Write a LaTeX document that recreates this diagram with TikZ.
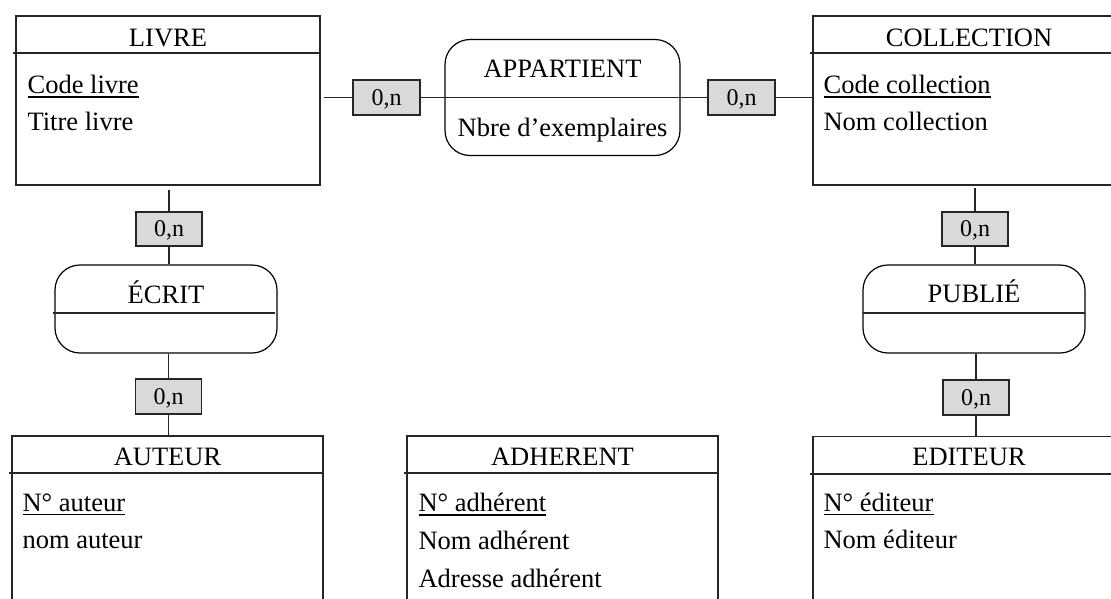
\documentclass[tikz,border=0pt]{standalone}
\usepackage{fontspec}
\setmainfont{Liberation Serif}
\newcommand{\keyul}[1]{\setbox0\hbox{#1}\rlap{\rule[-4pt]{\wd0}{1.3pt}}\box0}
\begin{document}
\begin{tikzpicture}[x=1pt,y=-1pt,
  line width=1.2pt,
  ln/.style={draw=black!85},
  entity/.style={draw=black!85, line width=1.2pt, inner sep=0pt, minimum height=169pt},
  lowentity/.style={draw=black!85, line width=1.2pt, inner sep=0pt, minimum height=204pt},
  relation/.style={draw=black, line width=1.2pt, rounded corners=25pt, inner sep=0pt},
  card/.style={draw=black!85, line width=1.2pt, fill=black!15, inner sep=0pt,
    minimum width=67pt, minimum height=35pt, text height=16pt, text depth=1pt,
    font=\fontsize{24}{28}\selectfont},
  ttl/.style={anchor=base, inner sep=0pt, font=\fontsize{26.5}{32}\selectfont},
  attr/.style={anchor=base west, inner sep=0pt, font=\fontsize{26.5}{32}\selectfont}
]
\useasboundingbox (0,0) rectangle (1111,598);
\clip (0,0) rectangle (1111,598);
\fill[white] (0,0) rectangle (1111,598);

% ---- entities ----
\node[entity, minimum width=304pt] (livre) at (168,100.5) {};
\draw[ln] (13,53) -- (livre.east |- 0,53);
\node[ttl] (tlivre) at (168,46.5) {LIVRE};
\node[attr] (a1) at (27,93.5) {\keyul{Code livre}};
\node[attr] (a2) at (27,130.5) {Titre livre};

\node[entity, minimum width=312pt] (coll) at (969,100.5) {};
\draw[ln] (810,53) -- (coll.east |- 0,53);
\node[ttl] (tcoll) at (969,46.5) {COLLECTION};
\node[attr] (a3) at (823,93.5) {\keyul{Code collection}};
\node[attr] (a4) at (823,130.5) {Nom collection};

\node[lowentity, minimum width=311pt] (auteur) at (167.5,538) {};
\draw[ln] (9,473) -- (auteur.east |- 0,473);
\node[ttl] (tauteur) at (167.5,465) {AUTEUR};
\node[attr] (a5) at (22,511) {\keyul{N° auteur}};
\node[attr] (a6) at (22,548) {nom auteur};

\node[lowentity, minimum width=311pt] (adh) at (562.5,538) {};
\draw[ln] (404,473) -- (adh.east |- 0,473);
\node[ttl] (tadh) at (562.5,465.5) {ADHERENT};
\node[attr] (a7) at (418,511.5) {\keyul{N° adhérent}};
\node[attr] (a8) at (418,549) {Nom adhérent};
\node[attr] (a9) at (418,587) {Adresse adhérent};

\node[lowentity, minimum width=312pt] (edit) at (969,538.5) {};
\draw[ln] (810,474) -- (edit.east |- 0,474);
\node[ttl] (tedit) at (969,465.5) {EDITEUR};
\node[attr] (a10) at (823,511) {\keyul{N° éditeur}};
\node[attr] (a11) at (823,548.5) {Nom éditeur};

% ---- relations ----
\node[relation, minimum width=235pt, minimum height=116pt] (app) at (562.5,97.5) {};
\draw[ln] (app.west) -- (app.east);
\node[ttl] (tapp) at (562.5,77.3) {APPARTIENT};
\node[ttl] (tapp2) at (562.5,136.7) {Nbre d’exemplaires};

\node[relation, minimum width=222pt, minimum height=88pt] (ecrit) at (166,309) {};
\draw[ln] (53,313) -- (275,313);
\node[ttl] (tecrit) at (166,303) {ÉCRIT};

\node[relation, minimum width=222pt, minimum height=88pt] (publie) at (974,309) {};
\draw[ln] (863,313) -- (1085,313);
\node[ttl] (tpublie) at (974,302.7) {PUBLIÉ};

% ---- cardinalities ----
\node[card] (c1) at (386.5,97.5) {0,n};
\node[card] (c2) at (741.5,97.5) {0,n};
\node[card, minimum width=66pt, minimum height=34pt] (c3) at (169,229) {0,n};
\node[card, minimum width=66pt, minimum height=35pt] (c4) at (168.5,396.5) {0,n};
\node[card, minimum width=66pt, minimum height=34pt] (c5) at (975,229) {0,n};
\node[card, minimum width=66pt, minimum height=35pt] (c6) at (976,397.5) {0,n};

% ---- connectors ----
\draw[ln] (c1.west) -- ([xshift=3pt]c1.west -| livre.east);
\draw[ln] (c1.east) -- (c1.east -| app.west);
\draw[ln] (c2.west) -- (c2.west -| app.east);
\draw[ln] (c2.east) -- (c2.east -| coll.west);

\draw[ln] (c3.north) -- ([yshift=-4pt]c3.north |- livre.south);
\draw[ln] (c3.south) -- (c3.south |- ecrit.north);
\draw[ln] (c4.north) -- (c4.north |- ecrit.south);
\draw[ln] (c4.south) -- (c4.south |- auteur.north);

\draw[ln] (c5.north) -- ([yshift=-2pt]c5.north |- coll.south);
\draw[ln] (c5.south) -- (c5.south |- publie.north);
\draw[ln] (c6.north) -- (c6.north |- publie.south);
\draw[ln] (c6.south) -- (c6.south |- edit.north);
\end{tikzpicture}
\end{document}
